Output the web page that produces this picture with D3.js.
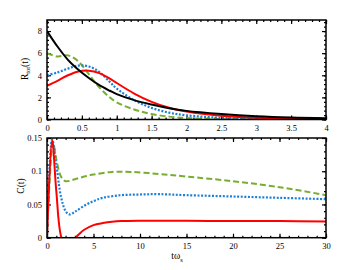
<!doctype html>
<html>
<head>
<script src="https://d3js.org/d3.v7.min.js"></script>
<style>
  body { margin: 0; background: #fff; }
  text { font-family: "Liberation Serif", "DejaVu Serif", serif; }
</style>
</head>
<body>
<svg id="chart" width="360" height="270"></svg>
<script>
// top panel: R_tot(t)
var tTop = [0, 0.15, 0.3, 0.45, 0.6, 0.75, 0.9, 1, 1.25, 1.5, 1.75, 2, 2.5, 3, 3.5, 4];
var rBlack = [8, 6.6, 5.4, 4.5, 3.75, 3.1, 2.6, 2.3, 1.75, 1.35, 1.02, 0.78, 0.5, 0.3, 0.18, 0.12];
var rRed   = [3.05, 3.5, 4.0, 4.35, 4.42, 4.2, 3.7, 3.3, 2.35, 1.6, 1.07, 0.72, 0.33, 0.15, 0.07, 0.04];
var rBlue  = [4.0, 4.25, 4.6, 4.88, 4.8, 4.3, 3.4, 2.8, 1.75, 1.05, 0.62, 0.38, 0.15, 0.06, 0.03, 0.02];
var rGreen = [6.0, 5.7, 5.8, 5.25, 4.1, 2.9, 2.0, 1.55, 0.9, 0.5, 0.26, 0.13, 0.04, 0.02, 0.01, 0.0];

// bottom panel: C(t)
var tRed  = [0, 0.55, 1.0, 1.55, 2.3, 3.1, 3.5, 4, 5, 6, 7, 8, 10, 15, 20, 25, 30];
var cRed  = [0, 0.147, 0.07, 0, -0.02, 0, 0.006, 0.012, 0.019, 0.022, 0.024, 0.025, 0.0255, 0.0255, 0.025, 0.025, 0.0245];
var tBlue = [0, 0.55, 1, 1.5, 2, 2.4, 3, 4, 5, 6, 8, 10, 12, 15, 20, 25, 30];
var cBlue = [0, 0.148, 0.11, 0.062, 0.04, 0.035, 0.039, 0.048, 0.055, 0.06, 0.064, 0.065, 0.0655, 0.064, 0.062, 0.06, 0.058];
var tGreen = [0, 0.65, 1, 1.5, 2, 3, 4, 5, 7, 9, 12, 15, 20, 25, 30];
var cGreen = [0, 0.143, 0.118, 0.092, 0.085, 0.088, 0.092, 0.095, 0.099, 0.099, 0.096, 0.092, 0.085, 0.076, 0.064];

var RED = "#ff0000", BLUE = "#1a80d8", GREEN = "#78ae30";

var svg = d3.select("#chart");
var L = 47, R = 326;

function panel(id, y0, y1, xDom, yDom, xMajor, xMinor, yMajor, yMinor, xFmt, yFmt) {
    var x = d3.scaleLinear().domain(xDom).range([L, R]);
    var y = d3.scaleLinear().domain(yDom).range([y1, y0]);
    var g = svg.append("g");
    var xM = d3.range(xDom[0], xDom[1] + 1e-9, xMajor);
    var xm = d3.range(xDom[0], xDom[1] + 1e-9, xMinor);
    var yM = d3.range(yDom[0], yDom[1] + 1e-9, yMajor);
    var ym = d3.range(yDom[0], yDom[1] + 1e-9, yMinor);

    function ax(axis, tr, vals, size, fmt) {
        var a = g.append("g").attr("transform", tr)
            .call(axis.tickValues(vals).tickSize(size).tickPadding(3).tickFormat(fmt));
        a.select(".domain").remove();
        a.selectAll("line").attr("stroke", "#000").attr("stroke-width", 1.2);
        a.selectAll("text").attr("font-size", 8.5).attr("fill", "#000")
            .attr("font-family", "Liberation Serif, serif");
        return a;
    }
    ax(d3.axisBottom(x), "translate(0," + y1 + ")", xm, -2, "");
    ax(d3.axisBottom(x), "translate(0," + y1 + ")", xM, -4, xFmt)
        .selectAll("text").attr("dy", "1.1em").attr("y", 2);
    ax(d3.axisTop(x), "translate(0," + y0 + ")", xm, -2, "");
    ax(d3.axisTop(x), "translate(0," + y0 + ")", xM, -4, "");
    ax(d3.axisLeft(y), "translate(" + L + ",0)", ym, -2, "");
    ax(d3.axisLeft(y), "translate(" + L + ",0)", yM, -4, yFmt)
        .selectAll("text").attr("x", -5);
    ax(d3.axisRight(y), "translate(" + R + ",0)", ym, -2, "");
    ax(d3.axisRight(y), "translate(" + R + ",0)", yM, -4, "");

    svg.append("clipPath").attr("id", id)
        .append("rect").attr("x", L).attr("y", y0).attr("width", R - L).attr("height", y1 - y0);
    var lines = svg.append("g").attr("clip-path", "url(#" + id + ")");

    svg.append("rect").attr("x", L).attr("y", y0).attr("width", R - L).attr("height", y1 - y0)
        .attr("fill", "none").attr("stroke", "#000").attr("stroke-width", 1.5);

    return {
        add: function (ts, vs, color, dash, w) {
            var line = d3.line().x(d => x(d[0])).y(d => y(d[1])).curve(d3.curveCatmullRom.alpha(0.5));
            lines.append("path").datum(d3.zip(ts, vs)).attr("d", line)
                .attr("fill", "none").attr("stroke", color).attr("stroke-width", w)
                .attr("stroke-dasharray", dash);
        }
    };
}

var pTop = panel("clipTop", 20, 119.5, [0, 4], [0, 9], 0.5, 0.1, 2, 0.4,
    d => d3.format("~g")(d), d => d3.format("~g")(d));
pTop.add(tTop, rGreen, GREEN, "6,3", 2);
pTop.add(tTop, rBlue, BLUE, "2,1.6", 2.2);
pTop.add(tTop, rRed, RED, null, 2);
pTop.add(tTop, rBlack, "#000", null, 2);

var pBot = panel("clipBot", 138, 237.7, [0, 30], [0, 0.15], 5, 1, 0.05, 0.01,
    d => d3.format("~g")(d), d => d3.format("~g")(+d.toFixed(3)));
pBot.add(tGreen, cGreen, GREEN, "6,3", 2);
pBot.add(tBlue, cBlue, BLUE, "2,1.6", 2.2);
pBot.add(tRed, cRed, RED, null, 2);

// axis titles
var yt = svg.append("text").attr("transform", "translate(28,69) rotate(-90)")
    .attr("text-anchor", "middle").attr("font-size", 9.5);
yt.append("tspan").text("R");
yt.append("tspan").attr("font-size", 6.5).attr("dy", 2).text("tot");
yt.append("tspan").attr("dy", -2).text("(t)");

svg.append("text").attr("transform", "translate(24,186) rotate(-90)")
    .attr("text-anchor", "middle").attr("font-size", 9.5).text("C(t)");

var xt = svg.append("text").attr("x", 177).attr("y", 259)
    .attr("text-anchor", "middle").attr("font-size", 9.5);
xt.append("tspan").text("tω");
xt.append("tspan").attr("font-size", 6.5).attr("dy", 3).text("s");
</script>
</body>
</html>
